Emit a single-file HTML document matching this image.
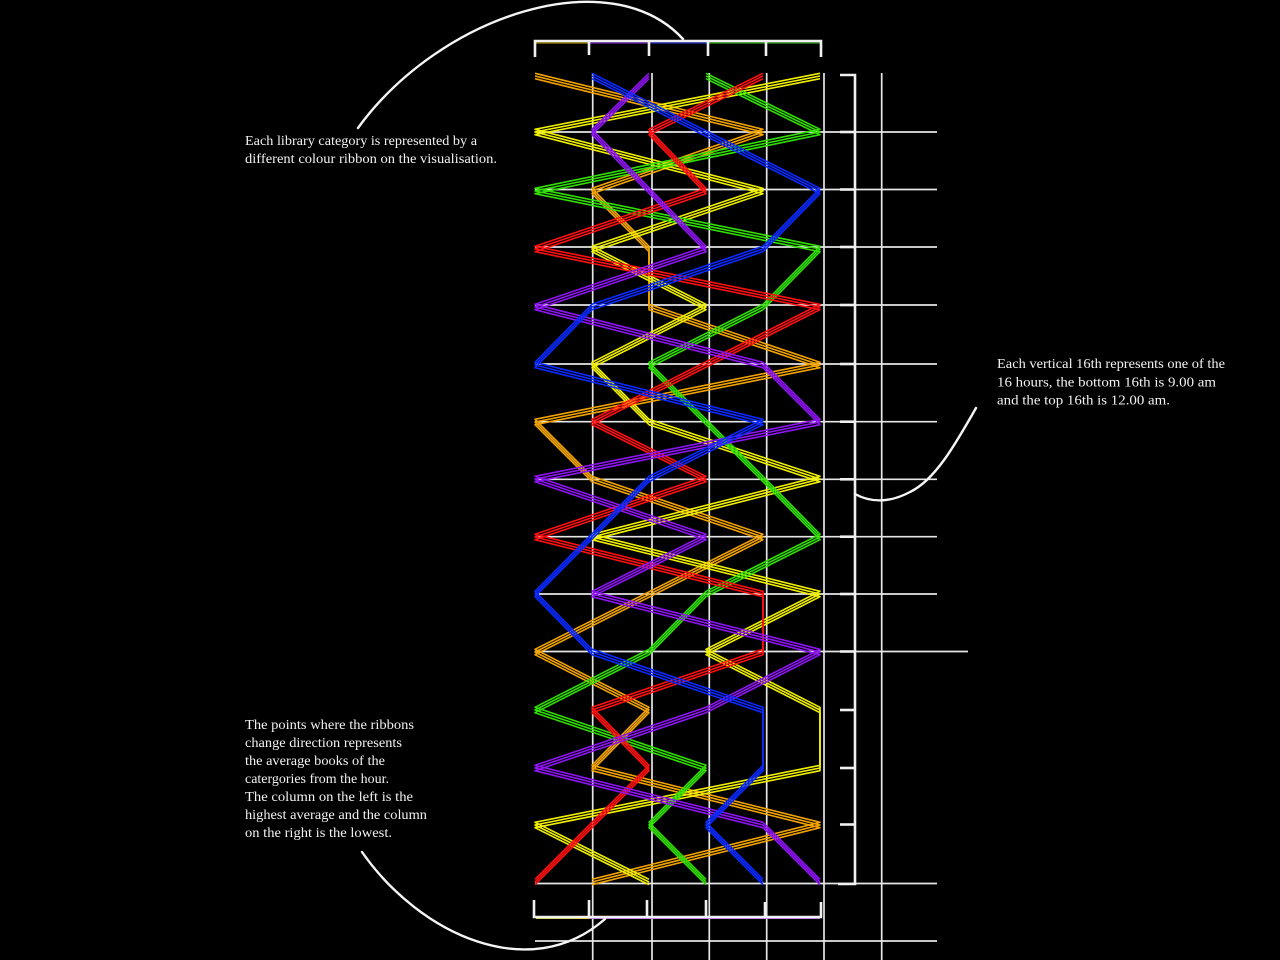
<!DOCTYPE html>
<html>
<head>
<meta charset="utf-8">
<style>
  html, body { margin:0; padding:0; background:#000; }
  body { width:1280px; height:960px; overflow:hidden; }
  svg { display:block; }
  text { font-family:"Liberation Serif", serif; font-size:14px; fill:#f2f2f2; }
</style>
</head>
<body>
<svg width="1280" height="960" viewBox="0 0 1280 960" xmlns="http://www.w3.org/2000/svg">
  <rect width="1280" height="960" fill="#000"/>

  <!-- grid vertical lines -->
  <g stroke="#e6e6e6" stroke-width="1.7" fill="none">
    <line x1="592.7" y1="73" x2="592.7" y2="960"/>
    <line x1="652" y1="73" x2="652" y2="960"/>
    <line x1="709.3" y1="73" x2="709.3" y2="960"/>
    <line x1="766.7" y1="73" x2="766.7" y2="960"/>
    <line x1="824" y1="73" x2="824" y2="960"/>
    <line x1="881.7" y1="73" x2="881.7" y2="960"/>
    <!-- horizontal lines -->
    <line x1="535" y1="132" x2="937" y2="132"/>
    <line x1="535" y1="189.5" x2="937" y2="189.5"/>
    <line x1="535" y1="247" x2="937" y2="247"/>
    <line x1="535" y1="305" x2="937" y2="305"/>
    <line x1="535" y1="364" x2="937" y2="364"/>
    <line x1="535" y1="421.7" x2="937" y2="421.7"/>
    <line x1="535" y1="479.3" x2="937" y2="479.3"/>
    <line x1="535" y1="536.7" x2="937" y2="536.7"/>
    <line x1="535" y1="594" x2="937" y2="594"/>
    <line x1="535" y1="651.5" x2="968" y2="651.5"/>
    <line x1="535" y1="883.5" x2="937" y2="883.5"/>
    <line x1="535" y1="941" x2="937" y2="941"/>
  </g>

  <!-- right bracket -->
  <g stroke="#f0f0f0" stroke-width="2.6" fill="none">
    <path d="M840,75 H855 V884 H838"/>
    <line x1="840" y1="132" x2="855" y2="132"/>
    <line x1="840" y1="189.5" x2="855" y2="189.5"/>
    <line x1="840" y1="247" x2="855" y2="247"/>
    <line x1="840" y1="305" x2="855" y2="305"/>
    <line x1="840" y1="364" x2="855" y2="364"/>
    <line x1="840" y1="421.7" x2="855" y2="421.7"/>
    <line x1="840" y1="479.3" x2="855" y2="479.3"/>
    <line x1="840" y1="536.7" x2="855" y2="536.7"/>
    <line x1="840" y1="594" x2="855" y2="594"/>
    <line x1="840" y1="651.5" x2="855" y2="651.5"/>
    <line x1="840" y1="710" x2="855" y2="710"/>
    <line x1="840" y1="768" x2="855" y2="768"/>
    <line x1="840" y1="824.5" x2="855" y2="824.5"/>
  </g>

  <!-- top bracket -->
  <g fill="none">
    <line x1="536" y1="43" x2="589" y2="43" stroke="#c8a800" stroke-width="1"/>
    <line x1="589" y1="43" x2="649" y2="43" stroke="#8a2be2" stroke-width="1"/>
    <line x1="649" y1="43" x2="708" y2="43" stroke="#2a3cff" stroke-width="1"/>
    <line x1="708" y1="43" x2="820" y2="43" stroke="#3ccc20" stroke-width="1"/>
    <g stroke="#f0f0f0" stroke-width="2.6">
      <path d="M535,57 V41 H821 V57"/>
      <line x1="589" y1="41" x2="589" y2="55"/>
      <line x1="649" y1="41" x2="649" y2="56"/>
      <line x1="708" y1="41" x2="708" y2="56"/>
      <line x1="766" y1="41" x2="766" y2="56"/>
    </g>
  </g>

  <!-- bottom bracket -->
  <g fill="none">
    <line x1="536" y1="918.5" x2="589" y2="918.5" stroke="#d8d040" stroke-width="1"/>
    <line x1="589" y1="918.5" x2="820" y2="918.5" stroke="#b070e0" stroke-width="1"/>
    <g stroke="#f0f0f0" stroke-width="2.6">
      <path d="M534,900 V917 H821 V902"/>
      <line x1="589" y1="900" x2="589" y2="917"/>
      <line x1="647" y1="900" x2="647" y2="917"/>
      <line x1="706" y1="900" x2="706" y2="917"/>
      <line x1="765" y1="902" x2="765" y2="917"/>
    </g>
  </g>

  <!-- ribbons -->
  <defs>
    <polyline id="orange" points="535,76 763,132 592,191 649,249 649,307 820,365 535,422 592,479 763,537 535,652 649,710 592,768 820,825 592,882"/>
    <polyline id="yellow" points="820,76 535,132 763,191 592,249 706,307 592,365 649,422 820,479 592,537 820,594 706,652 820,710 820,768 535,825 649,882"/>
    <polyline id="green" points="706,76 820,132 535,191 820,249 763,307 649,365 763,479 820,537 706,594 649,652 535,710 706,768 649,825 706,882"/>
    <polyline id="red" points="763,76 649,132 706,191 535,249 820,307 592,422 706,479 535,537 763,594 763,652 592,710 649,768 535,882"/>
    <polyline id="purple" points="649,76 592,132 706,249 535,307 763,365 820,422 535,479 706,537 592,594 820,652 706,710 535,768 763,825 820,882"/>
    <polyline id="blue" points="592,76 820,191 763,249 592,307 535,365 763,422 649,479 535,594 592,652 763,710 763,768 706,825 763,882"/>
  </defs>
  <g fill="none" stroke-width="1.6" stroke-linejoin="round" stroke-linecap="butt">
    <g stroke="#f2a300">
      <use href="#orange" transform="translate(0,-2.7)"/><use href="#orange"/><use href="#orange" transform="translate(0,2.7)"/>
    </g>
    <g stroke="#f0f000">
      <use href="#yellow" transform="translate(0,-2.7)"/><use href="#yellow"/><use href="#yellow" transform="translate(0,2.7)"/>
    </g>
    <g stroke="#2fe000">
      <use href="#green" transform="translate(0,-2.7)"/><use href="#green"/><use href="#green" transform="translate(0,2.7)"/>
    </g>
    <g stroke="#ff1010">
      <use href="#red" transform="translate(0,-2.7)"/><use href="#red"/><use href="#red" transform="translate(0,2.7)"/>
    </g>
    <g stroke="#8e14f2">
      <use href="#purple" transform="translate(0,-2.7)"/><use href="#purple"/><use href="#purple" transform="translate(0,2.7)"/>
    </g>
    <g stroke="#0a2aff">
      <use href="#blue" transform="translate(0,-2.7)"/><use href="#blue"/><use href="#blue" transform="translate(0,2.7)"/>
    </g>
  </g>

  <!-- annotation arcs -->
  <g stroke="#f5f5f5" stroke-width="2.4" fill="none" stroke-linecap="round">
    <path d="M358,128 C440,15 610,-40 683,39"/>
    <path d="M976,408 C955,445 935,480 910,492 C895,500 875,505 855,494"/>
    <path d="M362,852 C420,935 530,985 605,919"/>
  </g>

  <!-- text -->
  <text x="245" y="145" textLength="232" lengthAdjust="spacingAndGlyphs">Each library category is represented by a</text>
  <text x="245" y="163" textLength="252" lengthAdjust="spacingAndGlyphs">different colour ribbon on the visualisation.</text>

  <text x="997" y="368" textLength="228" lengthAdjust="spacingAndGlyphs">Each vertical 16th represents one of the</text>
  <text x="997" y="386.5" textLength="219" lengthAdjust="spacingAndGlyphs">16 hours, the bottom 16th is 9.00 am</text>
  <text x="997" y="404.5" textLength="173" lengthAdjust="spacingAndGlyphs">and the top 16th is 12.00 am.</text>

  <text x="245" y="729" textLength="169" lengthAdjust="spacingAndGlyphs">The points where the ribbons</text>
  <text x="245" y="747" textLength="157" lengthAdjust="spacingAndGlyphs">change direction represents</text>
  <text x="245" y="765" textLength="140" lengthAdjust="spacingAndGlyphs">the average books of the</text>
  <text x="245" y="783" textLength="144" lengthAdjust="spacingAndGlyphs">catergories from the hour.</text>
  <text x="245" y="801" textLength="168" lengthAdjust="spacingAndGlyphs">The column on the left is the</text>
  <text x="245" y="819" textLength="182" lengthAdjust="spacingAndGlyphs">highest average and the column</text>
  <text x="245" y="837" textLength="147" lengthAdjust="spacingAndGlyphs">on the right is the lowest.</text>
</svg>
</body>
</html>
